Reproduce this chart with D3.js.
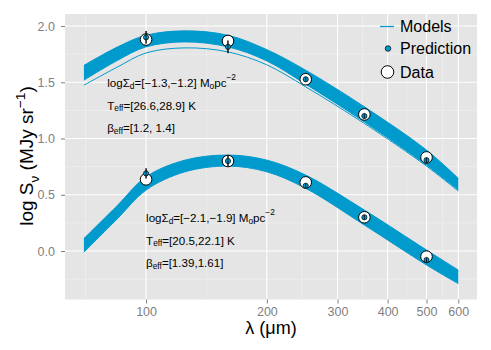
<!DOCTYPE html>
<html>
<head>
<meta charset="utf-8">
<script src="https://cdn.jsdelivr.net/npm/d3@7"></script>
<style>
body { margin: 0; background: #fff; }
text { font-family: "Liberation Sans", Arial, sans-serif; }
</style>
</head>
<body>
<script>
var modelWavelengths = [70, 85, 100, 125, 160, 200, 250, 350, 500, 600]

// upper group of models: edges of the thick band and the lone lower curve (log S)
var brightTop    = [1.65, 1.815, 1.918, 1.957, 1.918, 1.79, 1.607, 1.282, 0.897, 0.646]
var brightBottom = [1.519, 1.696, 1.815, 1.859, 1.815, 1.69, 1.483, 1.148, 0.764, 0.542]
var brightLow    = [1.474, 1.637, 1.761, 1.806, 1.77, 1.655, 1.459, 1.134, 0.755, 0.532]

// lower group of models
var faintTop    = [0.11, 0.408, 0.66, 0.808, 0.853, 0.808, 0.675, 0.364, 0.009, -0.169]
var faintBottom = [-0.01, 0.29, 0.542, 0.704, 0.755, 0.704, 0.557, 0.231, -0.124, -0.29]

// observed bands
var dataWavelengths = [100, 160, 250, 350, 500]

var brightData       = [1.88, 1.867, 1.527, 1.214, 0.832]
var brightPrediction = [1.90, 1.815, 1.527, 1.20, 0.808]
var brightError      = [0.056, 0.056, 0.02, 0.02, 0.02]

var faintData       = [0.637, 0.80, 0.61, 0.30, -0.05]
var faintPrediction = [0.69, 0.80, 0.58, 0.30, -0.08]
var faintError      = [0.045, 0.045, 0.02, 0.02, 0.02]

var xTicks = [100, 200, 300, 400, 500, 600]
var yTicks = [0, 0.5, 1, 1.5, 2]
var yMinorTicks = [-0.25, 0.25, 0.75, 1.25, 1.75]

var legendLabels = ['Models', 'Prediction', 'Data']

var brightNotes = [
    [{t: 'log\u03a3'}, {t: 'd', sub: true}, {t: '=[\u22121.3,\u22121.2] M'}, {t: 'o', sub: true}, {t: 'pc'}, {t: '\u22122', sup: true}],
    [{t: 'T'}, {t: 'eff', sub: true}, {t: '=[26.6,28.9] K'}],
    [{t: '\u03b2'}, {t: 'eff', sub: true}, {t: '=[1.2, 1.4]'}]
]
var faintNotes = [
    [{t: 'log\u03a3'}, {t: 'd', sub: true}, {t: '=[\u22122.1,\u22121.9] M'}, {t: 'o', sub: true}, {t: 'pc'}, {t: '\u22122', sup: true}],
    [{t: 'T'}, {t: 'eff', sub: true}, {t: '=[20.5,22.1] K'}],
    [{t: '\u03b2'}, {t: 'eff', sub: true}, {t: '=[1.39,1.61]'}]
]

var BLUE = '#009acd'
var width = 491
var height = 350
var panel = { left: 65, right: 477, top: 14, bottom: 299.5 }

var svg = d3.select('body').append('svg')
    .attr('width', width)
    .attr('height', height)

var x = d3.scaleLog().domain([62.8, 668]).range([panel.left, panel.right])
var y = d3.scaleLinear().domain([-0.431, 2.107]).range([panel.bottom, panel.top])

// panel + grid
svg.append('rect')
    .attr('x', panel.left).attr('y', panel.top)
    .attr('width', panel.right - panel.left)
    .attr('height', panel.bottom - panel.top)
    .attr('fill', '#e5e5e5')

// minor x breaks sit halfway (in log) between the major ones
var xMajorAll = [50].concat(xTicks)
var xMinor = []
for (var i = 1; i < xMajorAll.length; i++) {
    xMinor.push(Math.sqrt(xMajorAll[i - 1] * xMajorAll[i]))
}

var grid = svg.append('g')
grid.selectAll('.xminor').data(xMinor).enter().append('line')
    .attr('x1', d => x(d)).attr('x2', d => x(d))
    .attr('y1', panel.top).attr('y2', panel.bottom)
    .attr('stroke', '#f2f2f2').attr('stroke-width', 0.6)
grid.selectAll('.yminor').data(yMinorTicks).enter().append('line')
    .attr('x1', panel.left).attr('x2', panel.right)
    .attr('y1', d => y(d)).attr('y2', d => y(d))
    .attr('stroke', '#f2f2f2').attr('stroke-width', 0.6)
grid.selectAll('.xmajor').data(xTicks).enter().append('line')
    .attr('x1', d => x(d)).attr('x2', d => x(d))
    .attr('y1', panel.top).attr('y2', panel.bottom)
    .attr('stroke', '#ffffff').attr('stroke-width', 1.1)
grid.selectAll('.ymajor').data(yTicks).enter().append('line')
    .attr('x1', panel.left).attr('x2', panel.right)
    .attr('y1', d => y(d)).attr('y2', d => y(d))
    .attr('stroke', '#ffffff').attr('stroke-width', 1.1)

// models
function modelPoints(values) {
    return modelWavelengths.map((w, i) => [w, values[i]])
}

var line = d3.line()
    .x(d => x(d[0])).y(d => y(d[1]))
    .curve(d3.curveCatmullRom)

var band = d3.area()
    .x(d => x(d[0])).y0(d => y(d[2])).y1(d => y(d[1]))
    .curve(d3.curveCatmullRom)

function drawModels(top, bottom, extras) {
    var rows = modelWavelengths.map((w, i) => [w, top[i], bottom[i]])
    svg.append('path').datum(rows)
        .attr('d', band)
        .attr('fill', BLUE)
    ;[top, bottom].concat(extras).forEach(function(values) {
        svg.append('path').datum(modelPoints(values))
            .attr('d', line)
            .attr('fill', 'none')
            .attr('stroke', BLUE)
            .attr('stroke-width', 1)
    })
}

drawModels(brightTop, brightBottom, [brightLow])
drawModels(faintTop, faintBottom, [])

// data circles, then predictions with error bars
function drawPoints(data, pred, err) {
    var g = svg.append('g')
    g.selectAll('circle.data').data(dataWavelengths).enter().append('circle')
        .attr('cx', d => x(d))
        .attr('cy', (d, i) => y(data[i]))
        .attr('r', 5.8)
        .attr('fill', '#ffffff')
        .attr('stroke', '#000')
        .attr('stroke-width', 1)
    g.selectAll('line.err').data(dataWavelengths).enter().append('line')
        .attr('x1', d => x(d)).attr('x2', d => x(d))
        .attr('y1', (d, i) => y(pred[i] + err[i]))
        .attr('y2', (d, i) => y(pred[i] - err[i]))
        .attr('stroke', '#000')
        .attr('stroke-width', 1)
    g.selectAll('circle.pred').data(dataWavelengths).enter().append('circle')
        .attr('cx', d => x(d))
        .attr('cy', (d, i) => y(pred[i]))
        .attr('r', 2.6)
        .attr('fill', BLUE)
        .attr('stroke', '#000')
        .attr('stroke-width', 0.7)
    g.selectAll('line.err2').data(dataWavelengths).enter().append('line')
        .attr('x1', d => x(d)).attr('x2', d => x(d))
        .attr('y1', (d, i) => y(pred[i] + err[i]))
        .attr('y2', (d, i) => y(pred[i] - err[i]))
        .attr('stroke', '#000')
        .attr('stroke-width', 0.8)
}

drawPoints(brightData, brightPrediction, brightError)
drawPoints(faintData, faintPrediction, faintError)

// text with sub/superscripts
function richText(sel, parts, size) {
    var t = sel.append('text').attr('font-size', size)
    var shift = 0
    parts.forEach(function(p) {
        var target = p.sub ? size * 0.3 : (p.sup ? -size * 0.42 : 0)
        var ts = t.append('tspan').attr('dy', target - shift).text(p.t)
        if (p.sub || p.sup) ts.attr('font-size', size * 0.72)
        shift = target
    })
    return t
}

function drawNotes(notes, xpos, ypos) {
    notes.forEach(function(parts, i) {
        richText(svg, parts, 11.6)
            .attr('x', x(xpos))
            .attr('y', y(ypos[i]))
            .attr('dominant-baseline', 'central')
            .attr('fill', '#000')
    })
}

drawNotes(brightNotes, 80, [1.5, 1.3, 1.1])
drawNotes(faintNotes, 100, [0.3, 0.1, -0.1])

// axes
var yAxis = d3.axisLeft(y).tickValues(yTicks).tickFormat(d3.format('.1f'))
    .tickSizeInner(4).tickSizeOuter(0).tickPadding(6)
var gy = svg.append('g').attr('transform', 'translate(' + panel.left + ',0)').call(yAxis)

var xAxis = d3.axisBottom(x).tickValues(xTicks).tickFormat(d3.format('d'))
    .tickSizeInner(4).tickSizeOuter(0).tickPadding(3.5)
var gx = svg.append('g').attr('transform', 'translate(0,' + panel.bottom + ')').call(xAxis)

;[gx, gy].forEach(function(g) {
    g.select('.domain').remove()
    g.selectAll('.tick line').attr('stroke', '#7f7f7f')
    g.selectAll('.tick text')
        .attr('fill', '#7f7f7f')
        .attr('font-size', 12.5)
        .attr('font-family', '"Liberation Sans", Arial, sans-serif')
})

svg.append('text')
    .attr('x', (panel.left + panel.right) / 2)
    .attr('y', 334)
    .attr('text-anchor', 'middle')
    .attr('font-size', 18)
    .text('\u03bb (\u03bcm)')

richText(svg, [{t: 'log S'}, {t: '\u03bd', sub: true}, {t: ' (MJy sr'}, {t: '\u22121', sup: true}, {t: ')'}], 19)
    .attr('text-anchor', 'middle')
    .attr('transform', 'translate(33,156) rotate(-90)')

// legend
var legend = svg.append('g').attr('transform', 'translate(387,0)')
var rowY = [26.5, 48.5, 72]

legend.append('line')
    .attr('x1', -7).attr('x2', 7)
    .attr('y1', rowY[0]).attr('y2', rowY[0])
    .attr('stroke', BLUE).attr('stroke-width', 1.3)
legend.append('circle')
    .attr('cx', 1).attr('cy', rowY[1]).attr('r', 2.8)
    .attr('fill', BLUE).attr('stroke', '#000').attr('stroke-width', 0.7)
legend.append('circle')
    .attr('cx', 0.5).attr('cy', rowY[2]).attr('r', 6.3)
    .attr('fill', '#fff').attr('stroke', '#000').attr('stroke-width', 1)

legendLabels.forEach(function(label, i) {
    legend.append('text')
        .attr('x', 13)
        .attr('y', rowY[i])
        .attr('dominant-baseline', 'central')
        .attr('font-size', 16)
        .text(label)
})
</script>
</body>
</html>
